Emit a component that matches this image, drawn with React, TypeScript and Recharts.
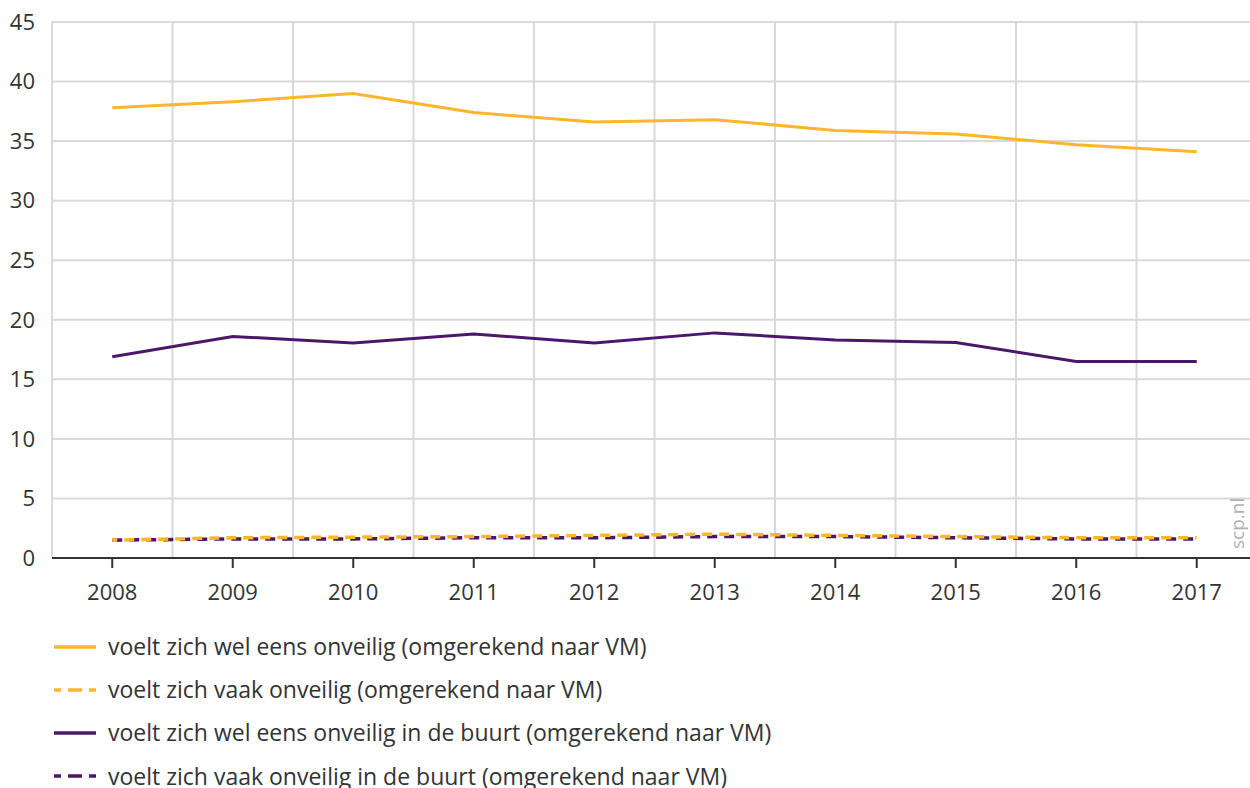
import { LineChart, Line, XAxis, YAxis, CartesianGrid, ReferenceLine } from "recharts";

const YEARS = [2008, 2009, 2010, 2011, 2012, 2013, 2014, 2015, 2016, 2017];
const WEL_EENS = [37.8, 38.3, 39.0, 37.4, 36.6, 36.8, 35.9, 35.6, 34.7, 34.1];
const VAAK = [1.5, 1.7, 1.75, 1.8, 1.9, 2.0, 1.9, 1.8, 1.7, 1.7];
const WEL_EENS_BUURT = [16.9, 18.6, 18.05, 18.8, 18.05, 18.9, 18.3, 18.1, 16.5, 16.5];
const VAAK_BUURT = [1.5, 1.6, 1.6, 1.7, 1.7, 1.8, 1.8, 1.7, 1.6, 1.6];
const Y_TICKS = [0, 5, 10, 15, 20, 25, 30, 35, 40, 45];

const YELLOW = "#fbb62b";
const PURPLE = "#4b176b";
const FONT = "'Open Sans', sans-serif";

const SERIES = [
  { key: "welEens", name: "voelt zich wel eens onveilig (omgerekend naar VM)", color: YELLOW, dash: false },
  { key: "vaak", name: "voelt zich vaak onveilig (omgerekend naar VM)", color: YELLOW, dash: true },
  { key: "welEensBuurt", name: "voelt zich wel eens onveilig in de buurt (omgerekend naar VM)", color: PURPLE, dash: false },
  { key: "vaakBuurt", name: "voelt zich vaak onveilig in de buurt (omgerekend naar VM)", color: PURPLE, dash: true },
];

const data = YEARS.map((year, i) => ({
  year,
  welEens: WEL_EENS[i],
  vaak: VAAK[i],
  welEensBuurt: WEL_EENS_BUURT[i],
  vaakBuurt: VAAK_BUURT[i],
}));

// band boundaries between the years
const BOUNDS = [YEARS[0] - 0.5, ...YEARS.map((y) => y + 0.5)];

export default function App() {
  return (
    <div style={{ position: "fixed", left: 0, top: 0, width: 1250, height: 788, overflow: "hidden", background: "#fff", fontFamily: FONT }}>
      <LineChart width={1260} height={620} data={data} margin={{ top: 22, right: 3, bottom: 0, left: 0 }}>
        <CartesianGrid vertical={false} stroke="#d9d9d9" strokeWidth={2} />
        {BOUNDS.map((b) => (
          <ReferenceLine key={b} x={b} stroke="#d9d9d9" strokeWidth={2} />
        ))}
        <XAxis
          dataKey="year"
          type="number"
          domain={[YEARS[0] - 0.5, YEARS[YEARS.length - 1] + 0.5]}
          ticks={YEARS}
          height={62}
          stroke="#333"
          strokeWidth={2}
          tickSize={10}
          tickMargin={16}
          tick={{ fill: "#333", fontSize: 22, fontFamily: FONT }}
        />
        <YAxis
          domain={[0, 45]}
          ticks={Y_TICKS}
          width={52}
          axisLine={false}
          tickLine={false}
          tickSize={0}
          tickMargin={17}
          tick={{ fill: "#333", fontSize: 22, fontFamily: FONT }}
        />
        <Line dataKey="vaakBuurt" stroke={PURPLE} strokeWidth={3.5} strokeDasharray="10 7" dot={false} isAnimationActive={false} />
        <Line dataKey="vaak" stroke={YELLOW} strokeWidth={3.5} strokeDasharray="10 7" strokeDashoffset={5} dot={false} isAnimationActive={false} />
        <Line dataKey="welEensBuurt" stroke={PURPLE} strokeWidth={3} dot={false} isAnimationActive={false} />
        <Line dataKey="welEens" stroke={YELLOW} strokeWidth={3} dot={false} isAnimationActive={false} />
      </LineChart>

      <div
        style={{
          position: "absolute",
          left: 1227,
          top: 549,
          transform: "rotate(-90deg)",
          transformOrigin: "left top",
          color: "#b0b0b0",
          fontSize: 19,
          lineHeight: "20px",
        }}
      >
        scp.nl
      </div>

      <div style={{ position: "absolute", left: 54, top: 625 }}>
        {SERIES.map((s) => (
          <div key={s.key} style={{ display: "flex", alignItems: "center", height: 43.2 }}>
            <svg width={44} height={6} style={{ marginRight: 10 }}>
              <line x1={0} y1={3} x2={42} y2={3} stroke={s.color} strokeWidth={3.5} strokeDasharray={s.dash ? "7 7 14 7" : undefined} />
            </svg>
            <span style={{ fontSize: 23, lineHeight: 1, color: "#333" }}>{s.name}</span>
          </div>
        ))}
      </div>
    </div>
  );
}
